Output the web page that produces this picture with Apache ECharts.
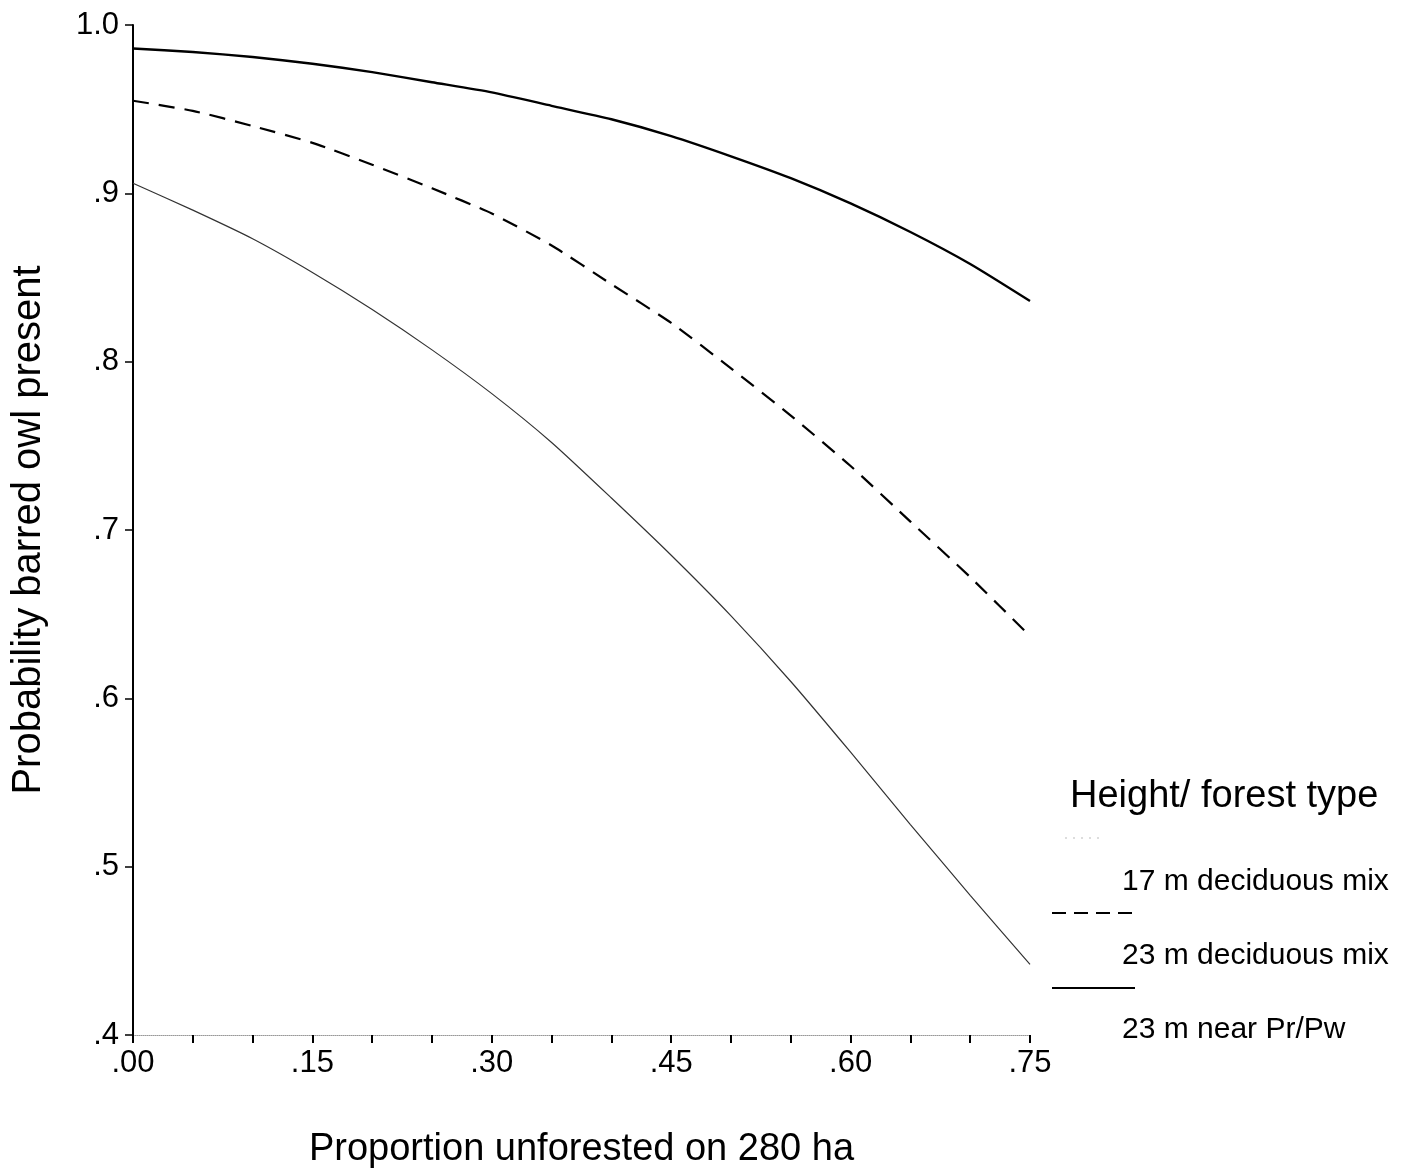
<!DOCTYPE html>
<html>
<head>
<meta charset="utf-8">
<script src="https://cdn.jsdelivr.net/npm/echarts@6/dist/echarts.min.js"></script>
<style>html,body{margin:0;padding:0;background:#fff}#c{width:1402px;height:1171px}</style>
</head>
<body>
<div id="c"></div>
<script>
var xValues = [0,0.05,0.10,0.15,0.20,0.25,0.30,0.35,0.40,0.45,0.50,0.55,0.60,0.65,0.70,0.75];
var s17Decid = [0.906,0.890,0.873,0.853,0.831,0.807,0.781,0.752,0.719,0.685,0.649,0.610,0.568,0.525,0.483,0.442];
var s23Decid = [0.955,0.949,0.940,0.930,0.917,0.903,0.888,0.869,0.846,0.823,0.796,0.768,0.738,0.705,0.672,0.637];
var s23PrPw  = [0.986,0.984,0.981,0.977,0.972,0.966,0.960,0.952,0.944,0.934,0.922,0.909,0.894,0.877,0.858,0.836];
var xTickLabels = ['.00','.15','.30','.45','.60','.75'];
var yTickLabels = ['.4','.5','.6','.7','.8','.9','1.0'];
var seriesNames = ['17 m deciduous mix','23 m deciduous mix','23 m near Pr/Pw'];
var legendTitle = 'Height/ forest type';

function pairs(arr){ return xValues.map(function(x,i){return [x,arr[i]];}); }
var FONT = '"Liberation Sans", Arial, sans-serif';
var chart = echarts.init(document.getElementById('c'));
chart.setOption({
  animation:false,
  backgroundColor:'#fff',
  grid:{left:133,right:372,top:25,bottom:136,outerBoundsMode:'none',containLabel:false},
  xAxis:{
    type:'value',min:0,max:0.75,interval:0.05,
    name:'Proportion unforested on 280 ha',nameLocation:'middle',nameGap:96,
    nameTextStyle:{fontFamily:FONT,fontSize:38,color:'#000'},
    axisLine:{lineStyle:{color:'#999',width:1,type:'dotted'}},
    axisTick:{show:true,length:8,lineStyle:{color:'#000',width:2}},
    splitLine:{show:false},
    axisLabel:{fontFamily:FONT,fontSize:31,color:'#000',margin:13,
      formatter:function(v){var k=Math.round(v*100); if(k%15!==0) return ''; return xTickLabels[k/15];}}
  },
  yAxis:{
    type:'value',min:0.4,max:1.0,interval:0.1,
    name:'Probability barred owl present',nameLocation:'middle',nameGap:84,nameRotate:90,
    nameTextStyle:{fontFamily:FONT,fontSize:40,color:'#000'},
    axisLine:{show:true,lineStyle:{color:'#000',width:2}},
    axisTick:{show:true,length:8,lineStyle:{color:'#000',width:1.5}},
    splitLine:{show:false},
    axisLabel:{fontFamily:FONT,fontSize:31,color:'#000',margin:14,
      formatter:function(v){return yTickLabels[Math.round(v*10)-4];}}
  },
  series:[
    {name:seriesNames[0],type:'line',data:pairs(s17Decid),smooth:0.2,symbol:'none',
      lineStyle:{color:'#333',width:1.2,type:'solid'}},
    {name:seriesNames[1],type:'line',data:pairs(s23Decid),smooth:0.2,symbol:'none',
      lineStyle:{color:'#000',width:2.2,type:[16,10]}},
    {name:seriesNames[2],type:'line',data:pairs(s23PrPw),smooth:0.2,symbol:'none',
      lineStyle:{color:'#000',width:2.4,type:'solid'}}
  ],
  graphic:[
    {type:'text',style:{x:1070,y:797,verticalAlign:'middle',text:legendTitle,fontFamily:FONT,fontSize:38,fill:'#000'}},
    {type:'line',shape:{x1:1065,y1:838,x2:1105,y2:838},style:{stroke:'#bbb',lineWidth:1,lineDash:[2,6]}},
    {type:'text',style:{x:1122,y:882,verticalAlign:'middle',text:seriesNames[0],fontFamily:FONT,fontSize:30,fill:'#000'}},
    {type:'line',shape:{x1:1052,y1:913,x2:1135,y2:913},style:{stroke:'#000',lineWidth:2,lineDash:[14,8]}},
    {type:'text',style:{x:1122,y:956,verticalAlign:'middle',text:seriesNames[1],fontFamily:FONT,fontSize:30,fill:'#000'}},
    {type:'line',shape:{x1:1052,y1:988,x2:1135,y2:988},style:{stroke:'#000',lineWidth:2}},
    {type:'text',style:{x:1122,y:1030,verticalAlign:'middle',text:seriesNames[2],fontFamily:FONT,fontSize:30,fill:'#000'}}
  ]
});
</script>
</body>
</html>
